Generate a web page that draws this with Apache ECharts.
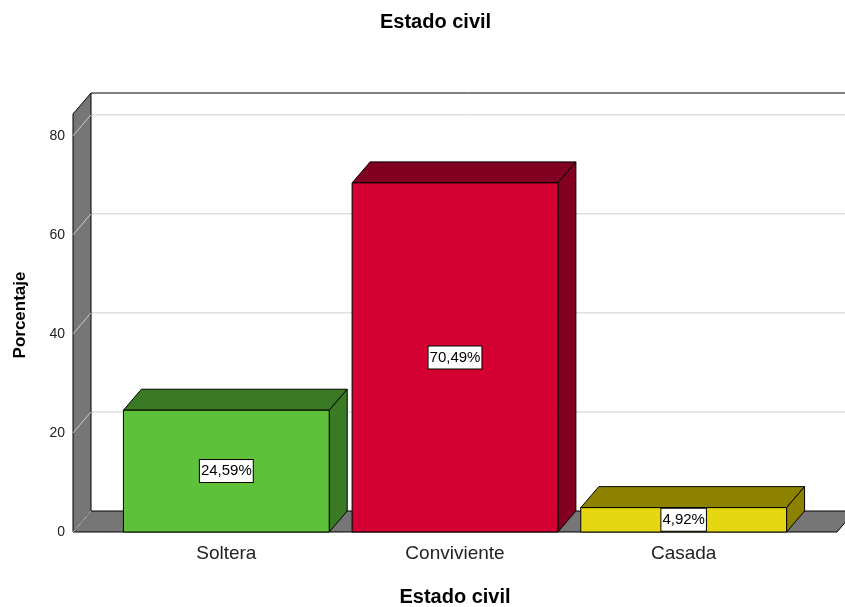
<!DOCTYPE html>
<html>
<head>
<meta charset="utf-8">
<script src="https://cdn.jsdelivr.net/npm/echarts@6/dist/echarts.min.js"></script>
<style>
html, body { margin: 0; padding: 0; background: #fff; }
#main { width: 845px; height: 607px; }
</style>
</head>
<body>
<div id="main"></div>
<script>
// datos
var categorias = ['Soltera', 'Conviviente', 'Casada'];
var porcentajes = [24.59, 70.49, 4.92];
var yTicks = [0, 20, 40, 60, 80];

// colores: cara frontal y caras laterales/superior
var colorFrente = ['#5ec13a', '#d50032', '#e5d812'];
var colorSombra = ['#3b7a24', '#820021', '#8c8200'];

// profundidad del efecto 3D y margen del piso
var DX = 18, DY = -21, PAD = 39;
var FUENTE = '"Liberation Sans", Arial, sans-serif';

function etiqueta(v) {
    return v.toFixed(2).replace('.', ',') + '%';
}

function dibujarMarco(params, api) {
    var cs = params.coordSys;
    var x0 = cs.x - PAD, x1 = cs.x + cs.width + PAD;
    var yt = cs.y, yb = cs.y + cs.height;
    var hijos = [];
    // pared del fondo
    hijos.push({
        type: 'rect',
        shape: {x: x0 + DX, y: yt + DY, width: x1 - x0, height: yb - yt},
        style: {fill: '#fff'}
    });
    hijos.push({
        type: 'line',
        shape: {x1: x0 + DX, y1: yt + DY, x2: x1 + DX, y2: yt + DY},
        style: {stroke: '#000', lineWidth: 1}
    });
    // lineas horizontales de la cuadricula
    yTicks.forEach(function (t) {
        if (t === 0) return;
        var y = api.coord([0, t])[1];
        hijos.push({
            type: 'line',
            shape: {x1: x0 + DX, y1: y + DY, x2: x1 + DX, y2: y + DY},
            style: {stroke: '#cfcfcf', lineWidth: 1}
        });
    });
    // pared izquierda
    hijos.push({
        type: 'polygon',
        shape: {points: [[x0, yb], [x0, yt], [x0 + DX, yt + DY], [x0 + DX, yb + DY]]},
        style: {fill: '#767676', stroke: '#000', lineWidth: 1}
    });
    // piso
    hijos.push({
        type: 'polygon',
        shape: {points: [[x0, yb], [x0 + DX, yb + DY], [x1 + DX, yb + DY], [x1, yb]]},
        style: {fill: '#767676', stroke: '#000', lineWidth: 1}
    });
    // diagonales de la cuadricula sobre la pared
    yTicks.forEach(function (t) {
        var y = api.coord([0, t])[1];
        hijos.push({
            type: 'line',
            shape: {x1: x0, y1: y, x2: x0 + DX, y2: y + DY},
            style: {stroke: '#cfcfcf', lineWidth: 1}
        });
    });
    return {type: 'group', children: hijos};
}

function dibujarBarra(params, api) {
    var i = api.value(0), v = api.value(1);
    var base = api.coord([i, 0]), tope = api.coord([i, v]);
    var w = api.size([1, 0])[0] * 0.9;
    var xl = base[0] - w / 2, xr = base[0] + w / 2;
    var yb = base[1], yt = tope[1];
    var c = params.dataIndex;
    return {
        type: 'group',
        children: [
            {
                type: 'polygon',
                shape: {points: [[xl, yt], [xl + DX, yt + DY], [xr + DX, yt + DY], [xr, yt]]},
                style: {fill: colorSombra[c], stroke: '#000', lineWidth: 1}
            },
            {
                type: 'polygon',
                shape: {points: [[xr, yt], [xr + DX, yt + DY], [xr + DX, yb + DY], [xr, yb]]},
                style: {fill: colorSombra[c], stroke: '#000', lineWidth: 1}
            },
            {
                type: 'rect',
                shape: {x: xl, y: yt, width: w, height: yb - yt},
                style: {fill: colorFrente[c], stroke: '#000', lineWidth: 1}
            },
            {
                type: 'text',
                x: base[0],
                y: (yt + yb) / 2,
                style: {
                    text: etiqueta(v),
                    font: '15px ' + FUENTE,
                    fill: '#000',
                    align: 'center',
                    verticalAlign: 'middle',
                    backgroundColor: '#fff',
                    borderColor: '#000',
                    borderWidth: 1,
                    padding: [4, 1, 3, 1]
                }
            }
        ]
    };
}

var myecharts = echarts.init(document.getElementById('main'));
var option = {
    animation: false,
    title: {
        text: 'Estado civil',
        left: 375,
        top: 7,
        textStyle: {fontFamily: FUENTE, fontSize: 20, fontWeight: 'bold', color: '#000'}
    },
    grid: {left: 112, right: 47, top: 114, bottom: 75, outerBoundsMode: 'none'},
    xAxis: {
        type: 'category',
        data: categorias,
        axisLine: {show: false},
        axisTick: {show: false},
        axisLabel: {fontFamily: FUENTE, fontSize: 19, color: '#222', margin: 12},
        name: 'Estado civil',
        nameLocation: 'middle',
        nameGap: 55,
        nameTextStyle: {fontFamily: FUENTE, fontSize: 20, fontWeight: 'bold', color: '#000'}
    },
    yAxis: {
        type: 'value',
        min: 0,
        max: 84.4,
        interval: 20,
        offset: 39,
        axisLine: {show: false},
        axisTick: {show: false},
        splitLine: {show: false},
        axisLabel: {fontFamily: FUENTE, fontSize: 14, color: '#222', margin: 8, showMaxLabel: false},
        name: 'Porcentaje',
        nameLocation: 'middle',
        nameGap: 44,
        nameTextStyle: {fontFamily: FUENTE, fontSize: 17, fontWeight: 'bold', color: '#000', padding: [0, 0, 0, 16]}
    },
    series: [
        {
            type: 'custom',
            z: 1,
            silent: true,
            renderItem: dibujarMarco,
            data: [[0, 0]]
        },
        {
            type: 'custom',
            z: 2,
            renderItem: dibujarBarra,
            data: porcentajes.map(function (v, i) { return [i, v]; })
        }
    ]
};
myecharts.setOption(option);
</script>
</body>
</html>
